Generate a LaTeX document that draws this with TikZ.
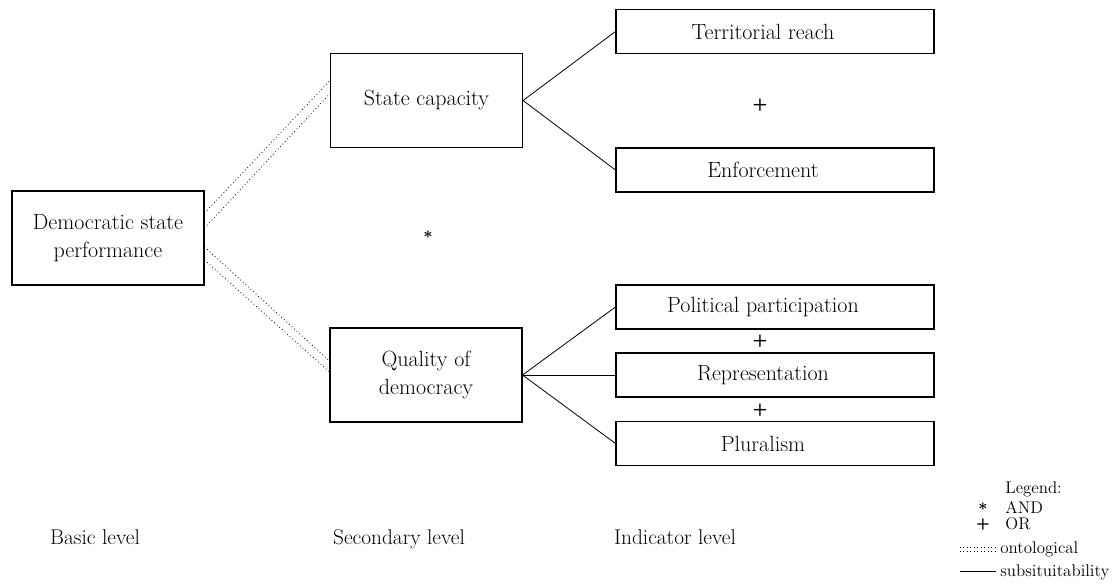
\documentclass[tikz,border=0pt]{standalone}
\usetikzlibrary{calc,positioning}
\tikzset{
    ind node/.style={draw,rectangle,line width=0.8pt,inner sep=0pt,minimum width=238.5pt,minimum height=33pt,font=\fontsize{16.5}{19}\selectfont,execute at end node=\hspace*{18pt}},
}

\begin{document}
\begin{tikzpicture}[x=0.75pt,y=-0.75pt,line width=0.6pt,main node/.style={draw,rectangle,line width=0.8pt,inner sep=0pt,minimum width=144pt,minimum height=70.5pt,align=center,font=\fontsize{16.5}{20.5}\selectfont},onto/.style={dotted,line width=0.6pt},lvl/.style={anchor=base,font=\fontsize{16}{19}\selectfont},sym/.style={font=\fontsize{13}{15}\selectfont\boldmath},plus/.style={font=\fontsize{13}{15}\selectfont\sffamily\bfseries},leg/.style={anchor=west,inner sep=0pt,font=\fontsize{12.7}{15}\selectfont}]
            \useasboundingbox (0,0) rectangle (1112,588);

            % levels
            \node[main node] (basic) at (108,238) {Democratic state\\performance};
            \node[main node] (state) at (426.5,100.5) {State capacity};
            \node[main node] (quality) at (426,375) {Quality of\\democracy};

            % indicators
            \node[ind node] (reach) at (775,31.5) {Territorial reach};
            \node[ind node] (enforce) at (775,170) {Enforcement};
            \node[ind node] (partic) at (775,307) {Political participation};
            \node[ind node] (repr) at (775,375) {Representation};
            \node[ind node] (plural) at (775,443.5) {Pluralism};

            \node[sym] (and1) at (428,235) {$\ast$};
            \node[plus] (or1) at (760,105) {+};
            \node[plus] (or2) at (760,341) {+};
            \node[plus] (or3) at (760,410) {+};

            % ontological
            \draw[onto] ($(basic.east)+(0,-25)$) -- ($(state.west)+(0,-20)$);
            \draw[onto] ($(basic.east)+(0,-10)$) -- ($(state.west)+(0,-7)$);
            \draw[onto] ($(basic.east)+(0,9)$) -- ($(quality.west)+(0,-14)$);
            \draw[onto] ($(basic.east)+(0,22)$) -- ($(quality.west)+(0,-3)$);

            % subsituitability
            \draw (state.east) -- (reach.west);
            \draw (state.east) -- (enforce.west);
            \draw (quality.east) -- (partic.west);
            \draw (quality.east) -- (repr.west);
            \draw (quality.east) -- (plural.west);

            \node[lvl] (lbasic) at (95,544) {Basic level};
            \node[lvl] (lsec) at (399,544) {Secondary level};
            \node[lvl] (lind) at (675,544) {Indicator level};

            % legend
            \node[leg] (legend) at (1005,489) {Legend:};
            \node[sym] (land) at (983,507) {$\ast$};
            \node[leg] (tand) at (1005,507) {AND};
            \node[plus,font=\fontsize{12}{14}\selectfont\sffamily\bfseries] (lor) at (983,524) {+};
            \node[leg] (tor) at (1005,524) {OR};
            \node[leg] (tonto) at (1000,549) {ontological};
            \node[leg] (tsub) at (1000,572) {subsituitability};
            \coordinate (o1) at (960,547);
            \coordinate (o2) at (960,551);
            \coordinate (s1) at (960,571);
            \draw[onto] (o1) -- ([xshift=-3.5pt]tonto.west |- o1);
            \draw[onto] (o2) -- ([xshift=-3.5pt]tonto.west |- o2);
            \draw (s1) -- ([xshift=-3pt]tsub.west |- s1);
        \end{tikzpicture}
\end{document}
